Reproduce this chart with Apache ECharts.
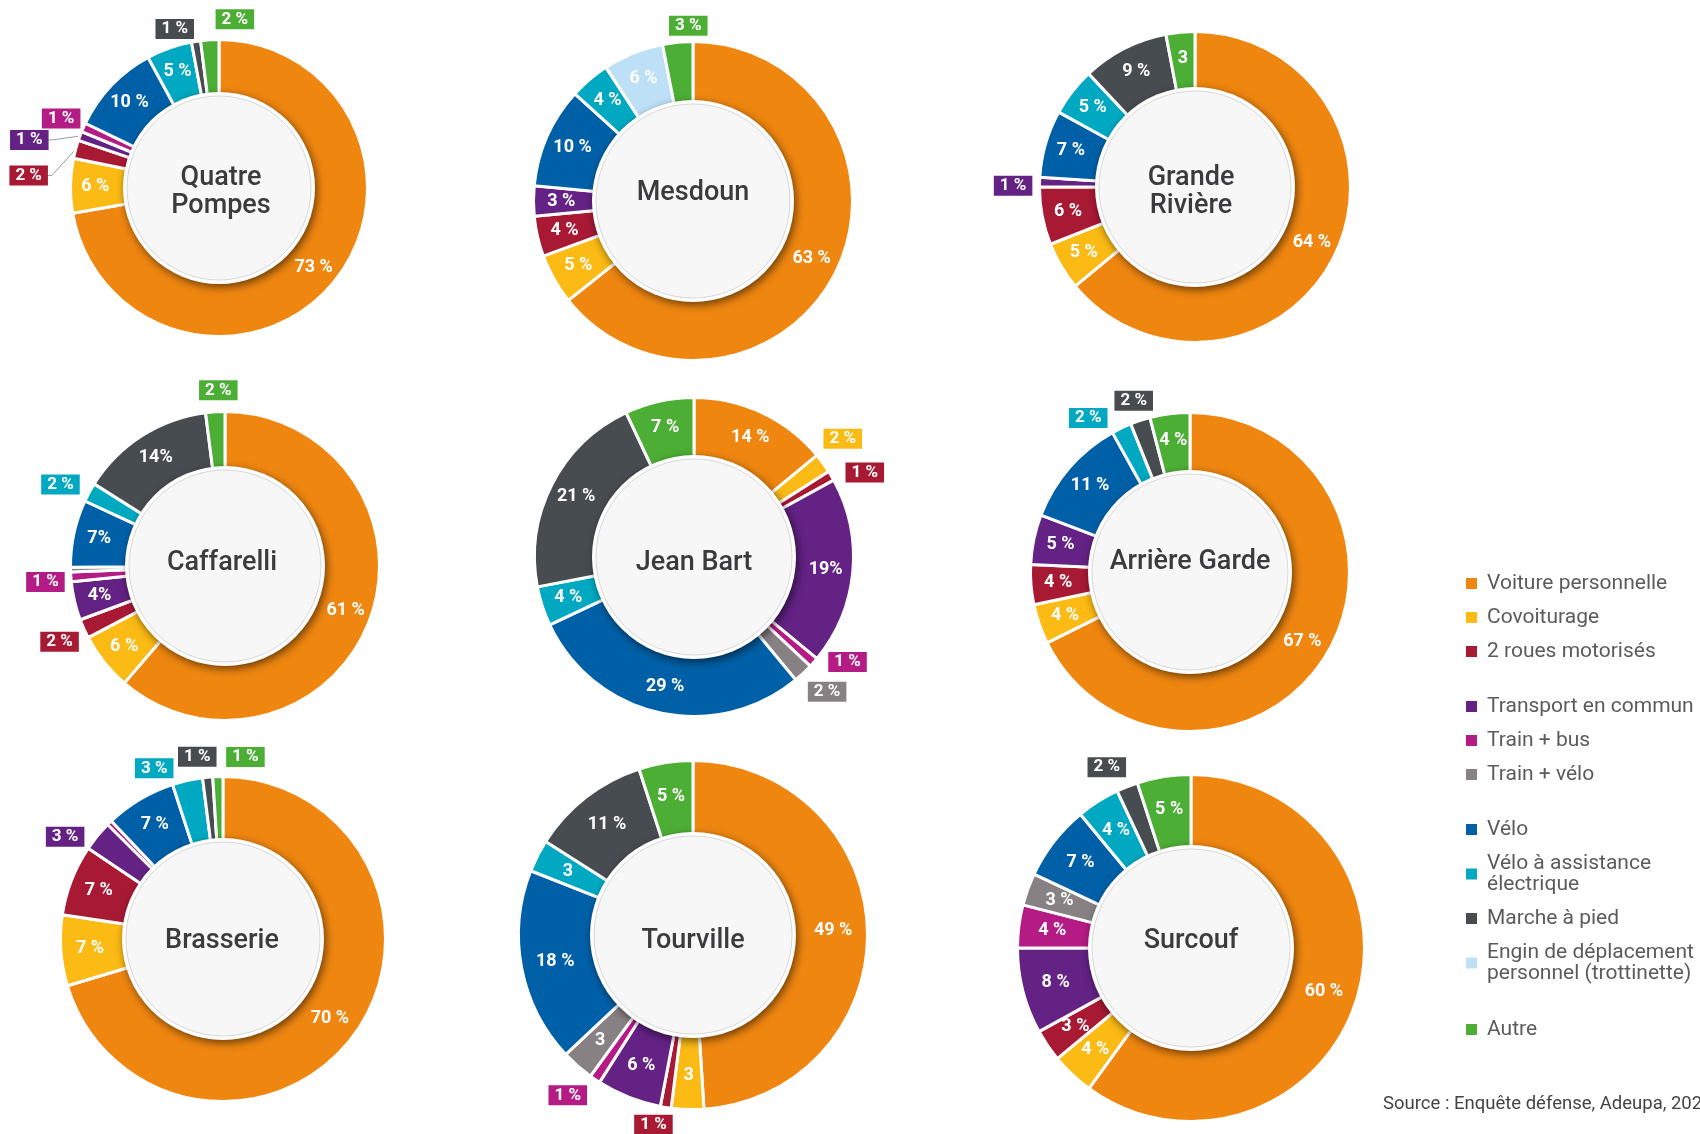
<!DOCTYPE html>
<html>
<head>
<meta charset="utf-8">
<title>Parts modales par quartier</title>
<script src="https://cdn.jsdelivr.net/npm/echarts@6/dist/echarts.min.js"></script>
<style>
  html, body { margin: 0; padding: 0; background: #ffffff; }
  #chart { width: 1700px; height: 1134px; }
</style>
</head>
<body>
<div id="chart"></div>
<script>
// Modes de déplacement (ordre des secteurs, sens horaire depuis midi)
const categories = [
  'Voiture personnelle',
  'Covoiturage',
  '2 roues motorisés',
  'Transport en commun',
  'Train + bus',
  'Train + vélo',
  'Vélo',
  'Vélo à assistance\nélectrique',
  'Marche à pied',
  'Engin de déplacement\npersonnel (trottinette)',
  'Autre'
];

const districts = ['Quatre\nPompes', 'Mesdoun', 'Grande\nRivière', 'Caffarelli', 'Jean Bart',
                   'Arrière Garde', 'Brasserie', 'Tourville', 'Surcouf'];

// Parts (%) par quartier, dans l'ordre des catégories ; 0 = mode absent
const quatrePompes = [73, 6, 2, 1, 1, 0, 10, 5, 1, 0, 2];
const mesdoun      = [63, 5, 4, 3, 0, 0, 10, 4, 0, 6, 3];
const grandeRiviere = [64, 5, 6, 1, 0, 0, 7, 5, 9, 0, 3];
const caffarelli   = [61, 6, 2, 4, 1, 0.5, 7, 2, 14, 0, 2];
const jeanBart     = [14, 2, 1, 19, 1, 2, 29, 4, 21, 0, 7];
const arriereGarde = [67, 4, 4, 5, 0, 0, 11, 2, 2, 0, 4];
const brasserie    = [70, 7, 7, 3, 0.5, 0, 7, 3, 1, 0, 1];
const tourville    = [49, 3, 1, 6, 1, 3, 18, 3, 11, 0, 5];
const surcouf      = [60, 4, 3, 8, 4, 3, 7, 4, 2, 0, 5];

// Étiquettes affichées sur les secteurs ('' = pas d'étiquette)
const quatrePompesLabels = ['73 %', '6 %', '2 %', '1 %', '1 %', '', '10 %', '5 %', '1 %', '', '2 %'];
const mesdounLabels      = ['63 %', '5 %', '4 %', '3 %', '', '', '10 %', '4 %', '', '6 %', '3 %'];
const grandeRiviereLabels = ['64 %', '5 %', '6 %', '1 %', '', '', '7 %', '5 %', '9 %', '', '3'];
const caffarelliLabels   = ['61 %', '6 %', '2 %', '4%', '1 %', '', '7%', '2 %', '14%', '', '2 %'];
const jeanBartLabels     = ['14 %', '2 %', '1 %', '19%', '1 %', '2 %', '29 %', '4 %', '21 %', '', '7 %'];
const arriereGardeLabels = ['67 %', '4 %', '4 %', '5 %', '', '', '11 %', '2 %', '2 %', '', '4 %'];
const brasserieLabels    = ['70 %', '7 %', '7 %', '3 %', '', '', '7 %', '3 %', '1 %', '', '1 %'];
const tourvilleLabels    = ['49 %', '3', '1 %', '6 %', '1 %', '3', '18 %', '3', '11 %', '', '5 %'];
const surcoufLabels      = ['60 %', '4 %', '3 %', '8 %', '4 %', '3 %', '7 %', '4 %', '2 %', '', '5 %'];

const source = 'Source : Enquête défense, Adeupa, 2022';

const values = [quatrePompes, mesdoun, grandeRiviere, caffarelli, jeanBart,
                arriereGarde, brasserie, tourville, surcouf];
const labels = [quatrePompesLabels, mesdounLabels, grandeRiviereLabels, caffarelliLabels, jeanBartLabels,
                arriereGardeLabels, brasserieLabels, tourvilleLabels, surcoufLabels];

// ---- Mise en forme ----
const palette = ['#EF8610', '#FBBA14', '#A81934', '#632284', '#B51B84', '#878184',
                 '#0060A7', '#00A9C1', '#474C50', '#BDE0F6', '#4DAE35'];

// [centre x, centre y, rayon extérieur, rayon du disque central]
const rings = [
  [219, 188, 147, 96], [693, 201, 158, 101], [1195, 187, 154, 100],
  [225, 566, 153, 100], [694, 557, 158, 102], [1190, 572, 158, 102],
  [223, 939, 161, 101], [693, 935, 173, 103], [1191, 948, 172, 103]
];
// décalage [dx, dy] du nom du quartier par rapport au centre
const nameShift = [[2, 4.5], [0, -7.5], [-4, 5.5], [-3, -2.5], [0, 6.5], [0, -9.5], [-1, 2.5], [0, 6.5], [0, -6.5]];

// étiquettes encadrées placées à l'extérieur de l'anneau : {catégorie: [dx, dy]}
const outside = [
  {2: [-33, 30], 3: [-37, 9], 4: [-9, -3], 8: [-19, 2], 10: [26, -6]},
  {10: [12, -2]},
  {3: [-12, 4]},
  {2: [-11, 7], 4: [-11, 4], 7: [-16, -1], 10: [4, -7]},
  {1: [8, -16], 2: [21, 4], 4: [23, -10], 5: [14, 8]},
  {7: [-27, 3], 8: [-2, -6]},
  {3: [-21, 10], 7: [-30, 2], 8: [-9, -6], 10: [28, -5]},
  {2: [-10, 3], 4: [-19, 4]},
  {8: [-15, -6]}
];
// étiquettes reliées par un trait
const withLine = [{2: true, 3: true}, {}, {}, {}, {}, {}, {}, {}, {}];

const GAP = 3;        // filet blanc entre secteurs
const LABEL_OUT = 16; // distance de l'étiquette au bord extérieur

const series = [];

districts.forEach(function (name, k) {
  const ring = rings[k];
  const items = [];
  values[k].forEach(function (v, c) {
    if (!v) return;
    const txt = labels[k][c];
    const isOut = outside[k][c] !== undefined;
    let label;
    if (!txt) {
      label = { show: false };
    } else if (isOut) {
      label = {
        show: true, position: 'outside', formatter: txt,
        color: '#ffffff', fontSize: 17, fontWeight: 'bold', lineHeight: 17,
        backgroundColor: palette[c], padding: [2, 6, 1, 6]
      };
    } else {
      label = {
        show: true, position: 'inside', formatter: txt,
        color: '#ffffff', fontSize: 18, fontWeight: 'bold'
      };
    }
    items.push({
      value: v, name: categories[c], cat: c, outside: isOut,
      itemStyle: { color: palette[c] },
      label: label,
      labelLine: withLine[k][c]
        ? { show: true, length: 6, length2: 4, lineStyle: { color: '#9b9b9b', width: 1 } }
        : { show: false }
    });
  });

  const total = items.reduce(function (s, it) { return s + it.value; }, 0);
  const mids = [];
  let acc = 0;
  items.forEach(function (it) {
    mids.push((acc + it.value / 2) / total * Math.PI * 2);
    acc += it.value;
  });

  series.push({
    type: 'pie',
    name: name,
    z: 2,
    center: [ring[0], ring[1]],
    radius: [ring[3] - 3, ring[2] + GAP / 2],
    startAngle: 90,
    clockwise: true,
    avoidLabelOverlap: false,
    silent: true,
    itemStyle: { borderColor: '#ffffff', borderWidth: GAP },
    labelLine: { show: false },
    data: items,
    labelLayout: function (p) {
      const it = items[p.dataIndex];
      if (!it || !it.outside) return {};
      const a = mids[p.dataIndex];
      const r = ring[2] + LABEL_OUT;
      const nd = outside[k][it.cat];
      return {
        x: ring[0] + r * Math.sin(a) + nd[0],
        y: ring[1] - r * Math.cos(a) + nd[1],
        align: 'center', verticalAlign: 'middle'
      };
    }
  });

  // disque central : liseré blanc ombré puis fond gris clair avec le nom
  series.push({
    type: 'pie', z: 3, silent: true,
    center: [ring[0], ring[1]], radius: [0, ring[3]],
    data: [{ value: 1, name: name }],
    itemStyle: {
      color: '#ffffff', shadowBlur: 9, shadowColor: 'rgba(0,0,0,0.55)',
      shadowOffsetX: 2, shadowOffsetY: 3
    },
    label: { show: false }, labelLine: { show: false }
  });
  series.push({
    type: 'pie', z: 4, silent: true,
    center: [ring[0], ring[1]], radius: [0, ring[3] - 4],
    data: [{ value: 1, name: name }],
    itemStyle: { color: '#f7f7f7', borderColor: '#d8d8d8', borderWidth: 1 },
    label: {
      show: true, position: 'center', formatter: name,
      fontSize: 27, fontWeight: 500, color: '#3b3b3d', lineHeight: 28,
      offset: nameShift[k]
    },
    labelLine: { show: false }
  });
});

// Légende en quatre groupes
const legendGroups = [[0, 1, 2], [3, 4, 5], [6, 7, 8, 9], [10]];
const legendTops = [573, 696, 819, 1019];

const legend = legendGroups.map(function (g, i) {
  return {
    orient: 'vertical', left: 1466, top: legendTops[i], padding: 0,
    itemGap: 13, itemWidth: 11, itemHeight: 11, icon: 'rect',
    selectedMode: false,
    itemStyle: { borderWidth: 0 },
    data: g.map(function (c) { return categories[c]; }),
    textStyle: { fontFamily: 'Roboto', fontSize: 21, color: '#5b5b5b', lineHeight: 21, padding: [0, 0, 0, 5] }
  };
});

const chart = echarts.init(document.getElementById('chart'), null, { renderer: 'canvas' });
chart.setOption({
  animation: false,
  backgroundColor: '#ffffff',
  textStyle: { fontFamily: 'Roboto' },
  title: {
    text: source, left: 1383, top: 1095, padding: 0,
    textStyle: { fontFamily: 'Roboto', fontSize: 18.5, fontWeight: 'normal', color: '#444444' }
  },
  legend: legend,
  series: series
});
</script>
</body>
</html>
